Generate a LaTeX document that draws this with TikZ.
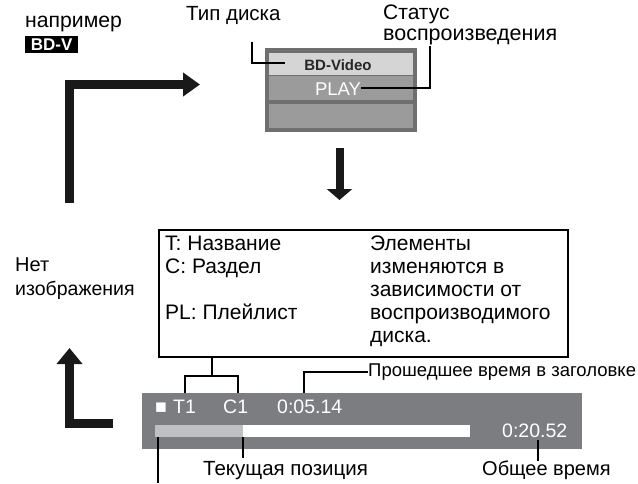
\documentclass[tikz,border=0pt]{standalone}
\usepackage{fontspec}
\setmainfont{Liberation Sans}
\usetikzlibrary{arrows.meta}
\definecolor{bargray}{HTML}{7C7D80}
\definecolor{lightbar}{HTML}{BFC0C2}
\definecolor{framegray}{HTML}{6F6F6F}
\definecolor{rowlight}{HTML}{D5D5D5}
\definecolor{rowmid}{HTML}{9B9B9B}
\begin{document}
\begin{tikzpicture}[x=1pt,y=-1pt,
  lbl/.style={inner sep=0pt,anchor=base west,font=\fontsize{20}{23}\selectfont},
  boxtxt/.style={inner sep=0pt,anchor=base west,font=\fontsize{21}{23}\selectfont},
  small/.style={inner sep=0pt,anchor=base west,font=\fontsize{18.5}{21}\selectfont},
  bartxt/.style={inner sep=0pt,anchor=base west,text=white,font=\fontsize{19.5}{22}\selectfont},
  leader/.style={draw=black,line width=1.6pt},
  bigarrow/.style={draw=black!90,line width=9pt,line join=miter},
]
\useasboundingbox (0,0) rectangle (638,483);

% --- top-left label
\node[inner sep=0pt,anchor=base west,font=\fontsize{21.2}{24}\selectfont] (eg) at (25,27) {например};
\node[fill=black,text=white,inner sep=0pt,minimum width=53pt,minimum height=17pt,anchor=north west,font=\fontsize{17}{17}\selectfont\bfseries] (bdv) at (25,36) {BD-V};

% --- top screen
\node[lbl,font=\fontsize{20.5}{23}\selectfont] (disktype) at (186,20) {Тип диска};
\node[inner sep=0pt,anchor=base west,font=\fontsize{21}{18}\selectfont] (status1) at (383,19) {Статус};
\node[inner sep=0pt,anchor=base west,font=\fontsize{21.5}{18}\selectfont] (status2) at (383,40) {воспроизведения};
\fill[framegray] (265,48) rectangle (417,132);
\fill[rowlight] (269,53) rectangle (413,75);
\fill[rowmid] (269,76) rectangle (413,100);
\fill[rowmid] (269,104) rectangle (413,128);
\node[inner sep=0pt,anchor=base,text=black!85,font=\fontsize{15}{15}\selectfont\bfseries] (bdvideo) at (338,70) {BD-Video};
\node[inner sep=0pt,anchor=base,text=white,font=\fontsize{18.5}{18}\selectfont] (play) at (338,95) {PLAY};
\coordinate (dt0) at (252,42);
\coordinate (dt1) at (285,63);
\draw[leader] (dt0) |- (dt1);
\coordinate (st0) at (430,46);
\coordinate (st1) at (play.east|-0,88);
\draw[leader] (st1) -| (st0);

% --- big arrows
\coordinate (a1s) at (69.5,203);
\coordinate (a1c) at (69.5,84.5);
\coordinate (a1e) at (200,84.5);
\draw[bigarrow,-{Triangle[length=17pt,width=23pt]}] (a1s) -- (a1c) -- (a1e);
\coordinate (a2s) at (339.5,148);
\coordinate (a2e) at (339.5,200);
\draw[bigarrow,line width=8pt,-{Triangle[length=11pt,width=25pt]}] (a2s) -- (a2e);
\coordinate (a3s) at (113,423);
\coordinate (a3c) at (69.5,423);
\coordinate (a3e) at (69.5,348);
\draw[bigarrow,-{Triangle[length=16pt,width=25pt]}] (a3s) -- (a3c) -- (a3e);

% --- no picture label
\node[lbl] (nopic1) at (15,271) {Нет};
\node[lbl,font=\fontsize{19.5}{23}\selectfont] (nopic2) at (15,295) {изображения};

% --- legend box
\node[draw=black,line width=2pt,inner sep=0pt,minimum width=409pt,minimum height=127pt,anchor=north west] (legend) at (158,229) {};
\node[boxtxt] (lt) at (165,250) {T: Название};
\node[boxtxt] (lc) at (165,273) {C: Раздел};
\node[boxtxt] (lpl) at (165,319) {PL: Плейлист};
\node[boxtxt] (r1) at (370,250) {Элементы};
\node[boxtxt] (r2) at (370,273) {изменяются в};
\node[boxtxt] (r3) at (370,296) {зависимости от};
\node[boxtxt] (r4) at (370,319) {воспроизводимого};
\node[boxtxt] (r5) at (370,342) {диска.};

% --- bottom bar
\fill[bargray] (142,393) rectangle (582,449);
\fill[lightbar] (155,425) rectangle (243,437);
\fill[white] (243,425) rectangle (470,437);
\node[bartxt] (sq) at (155,413) {■};
\node[bartxt] (t1) at (173,413) {T1};
\node[bartxt] (c1) at (223,413) {C1};
\node[bartxt] (elapsed) at (277,413) {0:05.14};
\node[bartxt] (total) at (502,437) {0:20.52};

% --- bottom leaders
\coordinate (br0) at (212,357);
\coordinate (brm) at (212,376);
\coordinate (brl) at (185,393);
\coordinate (brr) at (238,393);
\draw[leader] (br0) -- (brm);
\draw[leader] (brl) -- (brl |- brm) -- (brr |- brm) -- (brr);
\node[small,anchor=west] (elabel) at (368,372) {Прошедшее время в заголовке};
\coordinate (el0) at (304,393);
\draw[leader] (el0) |- (elabel.west);
\node[lbl,font=\fontsize{20.5}{23}\selectfont] (curpos) at (203,475) {Текущая позиция};
\node[lbl] (tottime) at (482,475) {Общее время};
\coordinate (cp0) at (243,437);
\coordinate (cp1) at (243,458);
\draw[leader] (cp0) -- (cp1);
\coordinate (tt0) at (538,440);
\coordinate (tt1) at (538,461);
\draw[leader] (tt0) -- (tt1);
\coordinate (lf0) at (158,437);
\coordinate (lf1) at (158,483);
\draw[leader] (lf0) -- (lf1);
\end{tikzpicture}
\end{document}
